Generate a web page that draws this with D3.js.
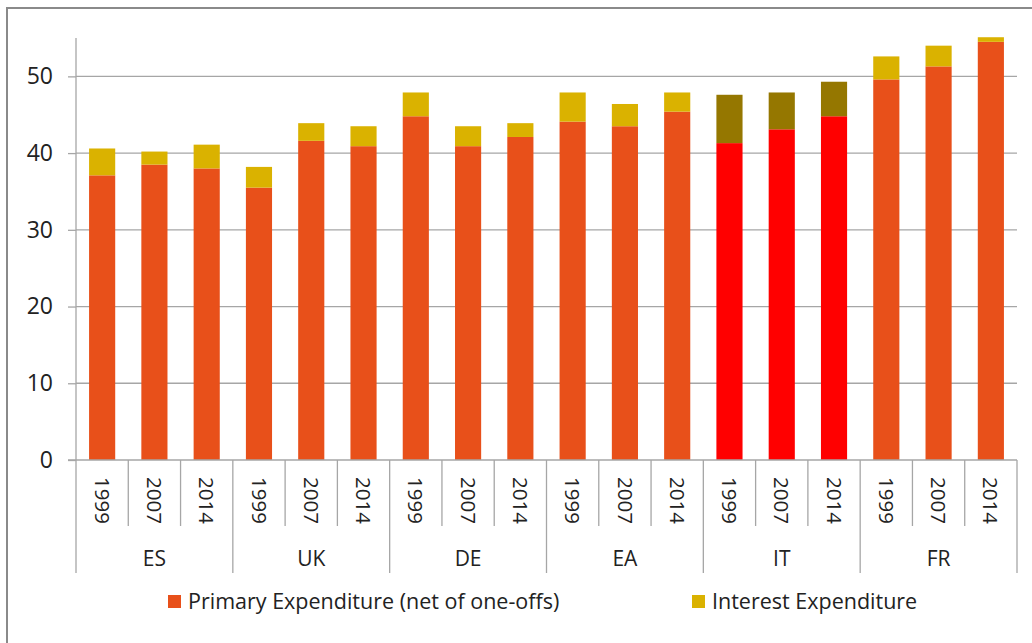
<!DOCTYPE html>
<html>
<head>
<meta charset="utf-8">
<script src="https://cdn.jsdelivr.net/npm/d3@7"></script>
<style>
  body { margin: 0; background: #fff; }
  text { font-family: "Open Sans", "Noto Sans", sans-serif; fill: #222; }
</style>
</head>
<body>
<svg id="chart" width="1032" height="643"></svg>
<script>
// Chart data
const groups = ['ES', 'UK', 'DE', 'EA', 'IT', 'FR'];
const years = ['1999', '2007', '2014'];
const primary = [37.1, 38.5, 38.0, 35.5, 41.6, 40.9, 44.8, 40.9, 42.1, 44.1, 43.5, 45.4, 41.3, 43.1, 44.8, 49.6, 51.3, 54.5];
const interest = [3.5, 1.7, 3.1, 2.7, 2.3, 2.6, 3.1, 2.6, 1.8, 3.8, 2.9, 2.5, 6.3, 4.8, 4.5, 3.0, 2.7, 0.6];
const yTicks = [0, 10, 20, 30, 40, 50];
const legendLabels = ['Primary Expenditure (net of one-offs)', 'Interest Expenditure'];
const highlight = 'IT';

const colors = {
  primary: '#e8501a',
  interest: '#dab200',
  primaryHi: '#ff0000',
  interestHi: '#957700'
};

const svg = d3.select('#chart');

// Outer frame
svg.append('rect')
  .attr('x', 7).attr('y', 8)
  .attr('width', 1040).attr('height', 700)
  .attr('fill', 'none')
  .attr('stroke', '#8a8a8a')
  .attr('stroke-width', 2);

const plot = { left: 76, right: 1017, top: 38, bottom: 460 };

// Build rows
const rows = [];
groups.forEach((g, gi) => {
  years.forEach((yr, yi) => {
    const i = gi * 3 + yi;
    rows.push({ key: g + yr, group: g, year: yr, primary: primary[i], interest: interest[i] });
  });
});

const x = d3.scaleBand()
  .domain(rows.map(d => d.key))
  .range([plot.left, plot.right])
  .paddingInner(0.5)
  .paddingOuter(0.25);

const y = d3.scaleLinear().domain([0, 55]).range([plot.bottom, plot.top]);

// Gridlines
svg.append('g')
  .selectAll('line')
  .data(yTicks.filter(t => t > 0))
  .enter().append('line')
    .attr('x1', plot.left).attr('x2', plot.right)
    .attr('y1', d => y(d)).attr('y2', d => y(d))
    .attr('stroke', '#a6a6a6')
    .attr('stroke-width', 1.3);

// Y axis
const yAxis = d3.axisLeft(y).tickValues(yTicks).tickSize(8).tickPadding(15);
const yg = svg.append('g')
  .attr('transform', `translate(${plot.left},0)`)
  .call(yAxis);
yg.select('.domain').remove();
yg.append('line')
  .attr('y1', plot.top).attr('y2', plot.bottom)
  .attr('stroke', '#a6a6a6').attr('stroke-width', 1.3);
yg.selectAll('.tick line').attr('stroke', '#a6a6a6').attr('stroke-width', 1.3);
yg.selectAll('.tick text')
  .attr('font-size', 23)
  .attr('font-family', '"Open Sans", sans-serif')
  .attr('fill', '#222');

// Bars
const stacks = svg.append('g');
stacks.selectAll('rect.primary')
  .data(rows)
  .enter().append('rect')
    .attr('class', 'primary')
    .attr('x', d => x(d.key))
    .attr('width', x.bandwidth())
    .attr('y', d => y(d.primary))
    .attr('height', d => y(0) - y(d.primary))
    .attr('fill', d => d.group === highlight ? colors.primaryHi : colors.primary);

stacks.selectAll('rect.interest')
  .data(rows)
  .enter().append('rect')
    .attr('class', 'interest')
    .attr('x', d => x(d.key))
    .attr('width', x.bandwidth())
    .attr('y', d => y(d.primary + d.interest))
    .attr('height', d => y(d.primary) - y(d.primary + d.interest))
    .attr('fill', d => d.group === highlight ? colors.interestHi : colors.interest);

// X axis: baseline and category separators
const xg = svg.append('g');
xg.append('line')
  .attr('x1', plot.left - 8).attr('x2', plot.right)
  .attr('y1', plot.bottom).attr('y2', plot.bottom)
  .attr('stroke', '#a6a6a6').attr('stroke-width', 1.3);

d3.range(rows.length + 1).forEach(i => {
  const xx = plot.left + i * (plot.right - plot.left) / rows.length;
  const isGroup = i % 3 === 0;
  xg.append('line')
    .attr('x1', xx).attr('x2', xx)
    .attr('y1', plot.bottom).attr('y2', isGroup ? 573 : 526)
    .attr('stroke', '#a6a6a6').attr('stroke-width', 1.3);
});

// Year labels (rotated)
xg.selectAll('text.year')
  .data(rows)
  .enter().append('text')
    .attr('class', 'year')
    .attr('transform', d => `translate(${x(d.key) + x.bandwidth() / 2},477) rotate(90)`)
    .attr('dy', '0.36em')
    .attr('font-size', 20.5)
    .text(d => d.year);

// Group labels
xg.selectAll('text.group')
  .data(groups)
  .enter().append('text')
    .attr('class', 'group')
    .attr('x', (d, i) => plot.left + (i * 3 + 1.5) * (plot.right - plot.left) / rows.length)
    .attr('y', 558)
    .attr('dy', '0.36em')
    .attr('text-anchor', 'middle')
    .attr('font-size', 21)
    .text(d => d);

// Legend
const legend = svg.append('g');
const legendX = [168, 692];
const legendColors = [colors.primary, colors.interest];
legendLabels.forEach((lab, i) => {
  legend.append('rect')
    .attr('x', legendX[i]).attr('y', 595)
    .attr('width', 13).attr('height', 13)
    .attr('fill', legendColors[i]);
  legend.append('text')
    .attr('x', legendX[i] + 20).attr('y', 601)
    .attr('dy', '0.36em')
    .attr('font-size', 21.5)
    .text(lab);
});
</script>
</body>
</html>
